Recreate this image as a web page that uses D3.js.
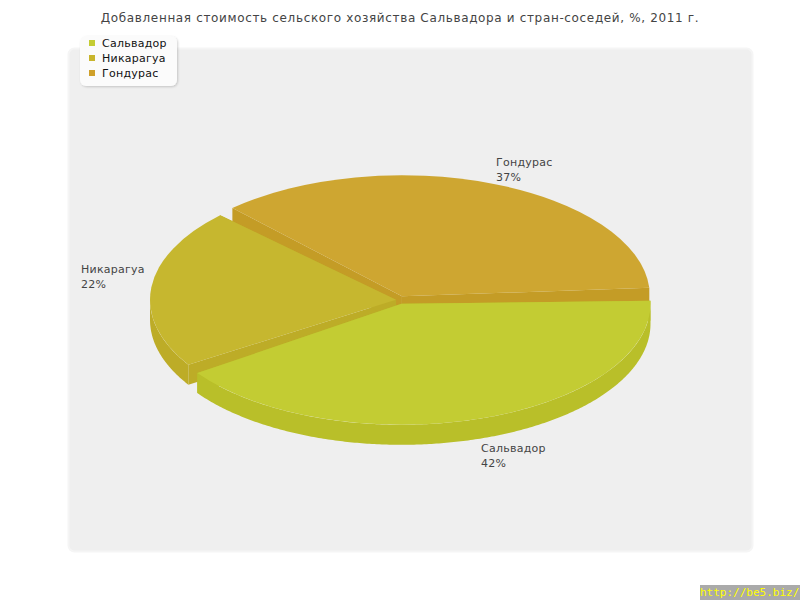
<!DOCTYPE html>
<html>
<head>
<meta charset="utf-8">
<script src="https://cdn.jsdelivr.net/npm/d3@7"></script>
<style>
body { margin: 0; background: #fff; }
svg { display: block; }
text { font-family: "DejaVu Sans", sans-serif; }
</style>
</head>
<body>
<script>
// Data
var countries = ["Сальвадор", "Никарагуа", "Гондурас"];
var shares = [42, 22, 37];
var title = "Добавленная стоимость сельского хозяйства Сальвадора и стран-соседей, %, 2011 г.";
var footer = "http://be5.biz/";

// Colors
var topColors = ["#c3cc33", "#c6b72f", "#cea631"];
var wallColors = ["#b9bf29", "#bdac27", "#c49c26"];
var legendColors = ["#c4cc33", "#c8b52c", "#cfa02a"];

// Layout
var width = 800, height = 600;
var cx = 399, cy = 300;
var radiiX = [249, 246, 248], ry = 121, depth = 20;
var explode = [8, 3, 8];
var labelPos = [[481, 452], [81, 273], [496, 166]];

var svg = d3.select("body").append("svg").attr("width", width).attr("height", height);

var defs = svg.append("defs");
var shadow = defs.append("filter").attr("id", "legendShadow")
    .attr("x", "-10%").attr("y", "-10%").attr("width", "125%").attr("height", "130%");
shadow.append("feDropShadow").attr("dx", 1).attr("dy", 1).attr("stdDeviation", 1)
    .attr("flood-color", "#000").attr("flood-opacity", 0.18);

// Title
svg.append("text").attr("x", 400).attr("y", 22).attr("text-anchor", "middle")
    .attr("font-size", 12).attr("letter-spacing", 0.65).attr("fill", "#444").text(title);

// Plot background
svg.append("rect").attr("x", 68.5).attr("y", 48.5).attr("width", 684).attr("height", 503)
    .attr("rx", 6).attr("fill", "#efefef").attr("stroke", "#f5f5f5").attr("stroke-width", 2);

// Pie slices, angles start a little above the right hand side and go clockwise
var padAngle = 2.5 * Math.PI / 180;
var startAngle = Math.PI / 2 - 1.5 * Math.PI / 180;
var pie = d3.pie().sort(null).startAngle(startAngle).endAngle(startAngle + 2 * Math.PI).padAngle(padAngle);
var slices = pie(shares).map(function(d) {
    // keep the gap between slices but draw without d3's parallel padding
    return { startAngle: d.startAngle, endAngle: d.endAngle - d.padAngle };
});

var line = d3.line();

// Hindmost slice goes first
[2, 1, 0].forEach(function(i) {
    var d = slices[i];
    var rx = radiiX[i];
    var mid = (d.startAngle + d.endAngle) / 2 - Math.PI / 2;
    var ox = cx + explode[i] * Math.cos(mid);
    var oy = cy + explode[i] * Math.sin(mid) * 0.5;
    var g = svg.append("g");
    var arc = d3.arc().innerRadius(0).outerRadius(rx);

    function rim(a, dy) {
        return [ox + rx * Math.cos(a - Math.PI / 2), oy + ry * Math.sin(a - Math.PI / 2) + dy];
    }

    // Radial walls
    [d.startAngle, d.endAngle].forEach(function(a) {
        g.append("path").attr("fill", wallColors[i])
            .attr("d", line([[ox, oy], rim(a, 0), rim(a, depth), [ox, oy + depth]]) + "Z");
    });

    // Outer wall, only the part that faces the viewer (screen angle 0 to 180)
    var a0 = Math.max(d.startAngle, Math.PI / 2);
    var a1 = Math.min(d.endAngle, 3 * Math.PI / 2);
    if (a1 > a0) {
        var angles = d3.range(a0, a1, 0.01).concat([a1]);
        var upper = angles.map(function(a) { return rim(a, 0); });
        var lower = angles.map(function(a) { return rim(a, depth); }).reverse();
        g.append("path").attr("fill", wallColors[i])
            .attr("d", line(upper.concat(lower)) + "Z");
    }

    // Top face
    g.append("path").attr("fill", topColors[i])
        .attr("transform", "translate(" + ox + "," + oy + ") scale(1," + (ry / rx) + ")")
        .attr("d", arc(d));
});

// Slice labels
countries.forEach(function(name, i) {
    var t = svg.append("text").attr("font-size", 11).attr("letter-spacing", 0.25).attr("fill", "#444");
    t.append("tspan").attr("x", labelPos[i][0]).attr("y", labelPos[i][1]).text(name);
    t.append("tspan").attr("x", labelPos[i][0]).attr("y", labelPos[i][1] + 15).text(shares[i] + "%");
});

// Legend
svg.append("rect").attr("x", 80).attr("y", 36).attr("width", 97).attr("height", 50)
    .attr("rx", 6).attr("fill", "#fbfbfb").attr("filter", "url(#legendShadow)");
var y = d3.scalePoint().domain(countries).range([43, 73]);
countries.forEach(function(name, i) {
    svg.append("rect").attr("x", 89).attr("y", y(name) - 3).attr("width", 6).attr("height", 6)
        .attr("fill", legendColors[i]);
    svg.append("text").attr("x", 102).attr("y", y(name) + 4).attr("font-size", 11)
        .attr("letter-spacing", 0.25).attr("fill", "#111").text(name);
});

// Footer link
svg.append("rect").attr("x", 700).attr("y", 585).attr("width", 100).attr("height", 15).attr("fill", "#aaaaaa");
svg.append("text").attr("x", 700).attr("y", 596).attr("font-size", 11)
    .style("font-family", "'DejaVu Sans Mono', monospace").attr("fill", "#ffff00").text(footer);
</script>
</body>
</html>
